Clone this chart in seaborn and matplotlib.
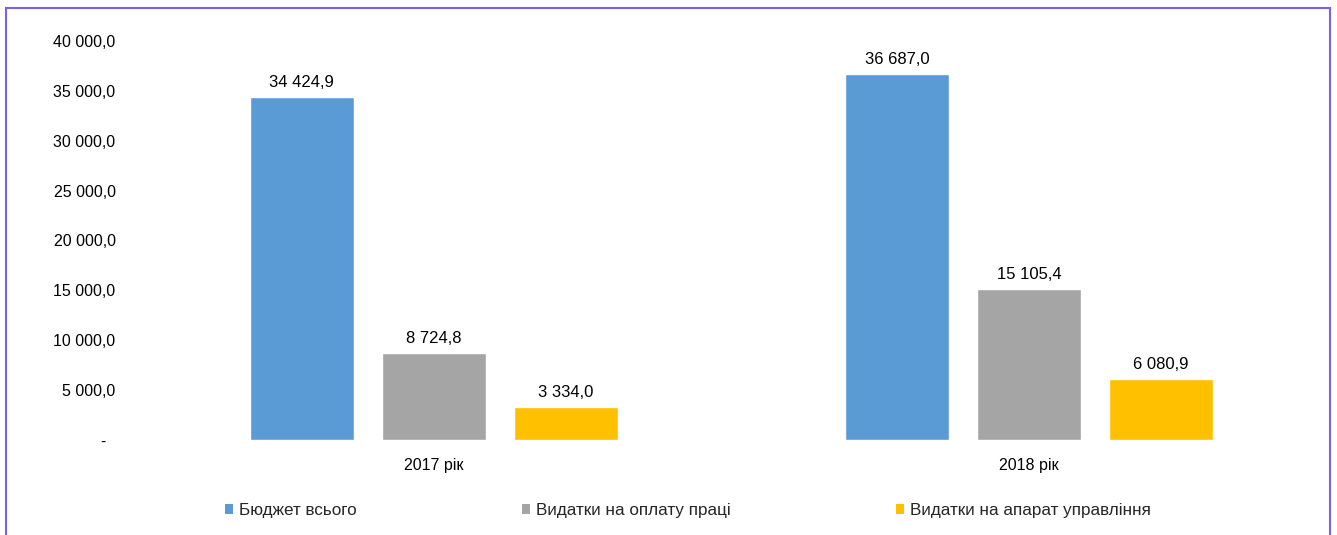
import matplotlib
matplotlib.use("Agg")
import matplotlib.pyplot as plt
import seaborn as sns
import pandas as pd
from matplotlib.patches import Patch, Rectangle

years = ["2017 рік", "2018 рік"]
series = ["Бюджет всього", "Видатки на оплату праці", "Видатки на апарат управління"]
budget_total = [34424.9, 36687.0]
salary_costs = [8724.8, 15105.4]
admin_costs = [3334.0, 6080.9]
colors = ["#5B9BD5", "#A5A5A5", "#FFC000"]
y_ticks = [0, 5000, 10000, 15000, 20000, 25000, 30000, 35000, 40000]


def fmt_num(v):
    s = f"{v:,.1f}".replace(",", " ").replace(".", ",")
    return s


rows = []
for name, vals in zip(series, [budget_total, salary_costs, admin_costs]):
    for yr, v in zip(years, vals):
        rows.append({"Рік": yr, "Показник": name, "Значення": v})
df = pd.DataFrame(rows)

sns.set_theme(style="white")
plt.rcParams["font.family"] = ["Liberation Sans", "DejaVu Sans"]

fig = plt.figure(figsize=(13.37, 5.35), dpi=100)
ax = fig.add_axes([0.102, 0.1776, 0.890, 0.7458])

sns.barplot(data=df, x="Рік", y="Значення", hue="Показник", order=years,
            hue_order=series, palette=colors, width=0.6655, gap=0.212,
            saturation=1, legend=False, ax=ax)

for cont in ax.containers:
    ax.bar_label(cont, labels=[fmt_num(b.get_height()) for b in cont],
                 padding=5, fontsize=12, color="#000000")

ax.set_xlim(-0.5, 1.5)
ax.set_ylim(0, 40000)
ax.set_yticks(y_ticks)
ax.set_yticklabels(["-  "] + [fmt_num(t) for t in y_ticks[1:]])
ax.tick_params(axis="y", length=0, pad=15, labelsize=11.5, labelcolor="#000000")
ax.tick_params(axis="x", length=0, pad=13, labelsize=11.5, labelcolor="#000000")
ax.set_xlabel("")
ax.set_ylabel("")
for sp in ax.spines.values():
    sp.set_visible(False)

handles = [Patch(facecolor=c, edgecolor="none") for c in colors]
fig.legend(handles, series, loc="center", bbox_to_anchor=(0.5146, 0.045),
           ncol=3, frameon=False, fontsize=12.3, handlelength=0.45,
           handleheight=0.5, handletextpad=0.35, columnspacing=9.7)

fig.patches.append(Rectangle((5.5 / 1337, -0.02), 1324.5 / 1337, 1.02 - 7.5 / 535,
                             transform=fig.transFigure, fill=False,
                             edgecolor="#7B61F0", linewidth=1.5))

fig.savefig("out.png", dpi=100)
plt.close(fig)
